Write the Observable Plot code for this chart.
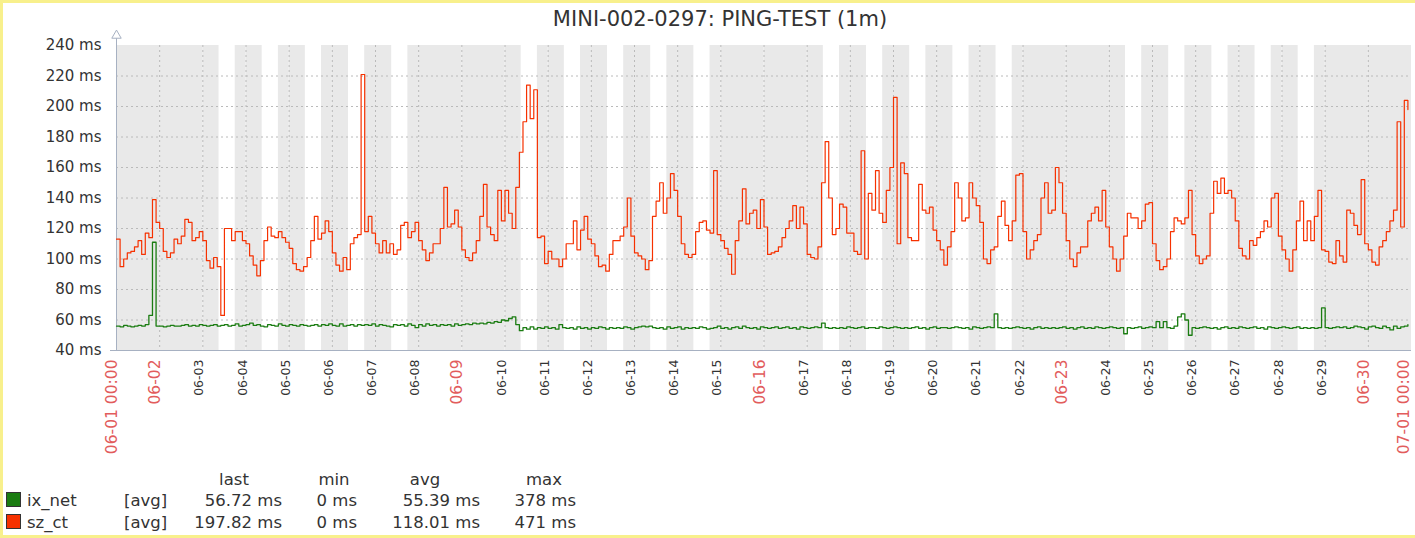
<!DOCTYPE html>
<html><head><meta charset="utf-8">
<script src="https://cdn.jsdelivr.net/npm/d3@7"></script>
<script src="https://cdn.jsdelivr.net/npm/@observablehq/plot@0.6"></script>
<style>
html,body{margin:0;padding:0;background:#fff;}
#wrap{position:relative;width:1415px;height:538px;overflow:hidden;font-family:"DejaVu Sans",sans-serif;color:#333;}
#title{height:30px;line-height:38px;font-size:21px;text-align:center;padding-left:25px;box-sizing:border-box;width:1415px;white-space:nowrap;color:#333;}
#wrap svg{display:block;}
#frame{position:absolute;left:0;top:0;width:1415px;height:538px;box-sizing:border-box;border-top:3px solid #f8f08c;border-left:3px solid #f8f08c;border-bottom:3px solid #f8f08c;pointer-events:none;}
</style></head><body>
<div id="wrap"><div id="title"></div><div id="chart"></div><div id="legend"></div><div id="frame"></div></div>
<script>
const chartTitle = "MINI-002-0297: PING-TEST (1m)";

// series: 2-hour averages from 2019-06-01 00:00, values in ms
const ixNet = [
56,55.5,56.5,56,55.5,56,56.5,56,57,63,
111,56,56,55.5,56,56.5,56,56,56.5,57,
56,56.5,56,57,56.5,56,56.5,57,56,56.5,
57,56,56.5,57.5,56,56.5,57,58,56.5,57,
56,55.5,57,56.5,56,57.5,56.5,56,57,56.5,
56,57,56.5,56,56.5,57,56,57,56.5,57.5,
56.5,56,57.5,56,56.5,57,56,57,56.5,57,
56.5,57.5,56,57,56.5,56,55.5,57,56.5,57,
56,57.5,56.5,55,57,56,57.5,56.5,57,56,
57,56.5,57,56,57.5,56.5,57,57.5,57,58,
57.5,58,57.5,58.5,58,59,58.5,60,59.5,61,
62,57,53,55,54,55.5,54,55,54.5,55.5,
54.5,55,54,57,55,54.5,55,54,55.5,54.5,
55,54,55,54.5,55.5,55,54,55,54.5,55,
54.5,55.5,55,54,55,55.5,56,55.5,56,55,
54.5,55,54,55.5,54.5,55,55.5,54,55,54.5,
55,54.5,55.5,55,54,54.5,55,56,54.5,55,
54,55,55.5,54.5,56,55,54.5,55,54,55.5,
55,54.5,55,55.5,54.5,55,55.5,54.5,55,54,
55.5,55,54.5,55,55.5,55,58,55,54.5,55,
54.5,55,54.5,55.5,55,54.5,55,55.5,54.5,55,
55,54.5,55.5,55,54.5,55,55.5,55,54.5,55,
54.5,55,55.5,54.5,55,54,55,55.5,54.5,55,
55,54.5,55,55.5,55,54.5,55,54,55.5,55,
54.5,55,55.5,55,64,55,54.5,55,54.5,55,
55.5,55,54.5,55,54,55,55.5,54.5,55,54.5,
55,54.5,55,55.5,54.5,55,54,55,55.5,54.5,
55,54.5,55.5,55,54.5,55,55.5,55,54.5,55,
51,55,54.5,55,55.5,54.5,55,55.5,55,59,
55,59,55,54.5,56,62,64,60,50,55,
54.5,55,55.5,55,54.5,55,54,55,55.5,54.5,
55,54.5,55.5,55,54.5,55,55.5,54.5,55,54,
55.5,55,54.5,55,55.5,55,54.5,55,55.5,54.5,
55,54.5,55,54.5,55,68,55,54.5,55,55.5,
55,55.5,54.5,55,56,55.5,55,54,55.5,56,
55,54.5,56,55,53.5,56,54.5,55.5,56,57
];
const szCt = [
113,95,100,104,105,108,112,103,117,114,
139,124,120,105,101,104,113,110,115,126,
124,112,114,118,112,99,94,101,95,63,
120,120,112,118,118,112,110,102,96,89,
99,112,121,115,114,118,114,111,107,97,
93,92,95,101,112,128,113,117,125,118,
104,96,92,101,93,110,114,116,221,118,
128,117,110,104,112,104,110,103,106,122,
124,114,118,124,112,106,99,104,110,110,
120,147,121,123,132,121,106,101,99,104,
112,128,149,121,116,112,145,125,145,130,
120,147,170,190,214,192,211,114,115,97,
105,100,100,95,100,110,110,125,106,119,
128,113,110,102,95,96,92,103,112,112,
115,121,140,115,104,102,100,93,99,128,
138,150,130,140,156,145,128,110,103,101,
103,118,124,125,119,117,158,116,112,107,
103,90,112,125,146,123,130,132,120,139,
121,103,104,105,108,114,120,125,135,120,
134,123,103,101,100,108,150,177,140,116,
120,136,134,117,117,105,103,171,100,143,
132,158,130,124,145,160,206,110,163,156,
114,112,112,149,132,130,134,119,112,106,
96,108,118,150,140,125,127,150,140,135,
124,100,97,106,108,128,138,122,112,125,
155,156,118,100,106,112,116,140,150,130,
132,160,150,130,112,100,95,104,108,108,
125,130,134,125,145,121,108,100,92,100,
115,130,127,127,120,125,136,137,110,99,
93,95,100,118,127,125,123,127,145,116,
102,97,100,102,130,151,143,153,143,145,
140,125,107,102,100,112,109,114,118,125,
121,140,143,115,106,100,92,106,125,138,
112,125,112,128,145,106,105,98,97,112,
102,98,132,130,122,116,152,110,106,98,
96,108,112,118,125,132,190,121,204,198
];

const yTicks = [40,60,80,100,120,140,160,180,200,220,240];
const xTickLabels = ["06-01 00:00","06-02","06-03","06-04","06-05","06-06","06-07","06-08","06-09","06-10",
  "06-11","06-12","06-13","06-14","06-15","06-16","06-17","06-18","06-19","06-20",
  "06-21","06-22","06-23","06-24","06-25","06-26","06-27","06-28","06-29","06-30","07-01 00:00"];
const redTickLabels = ["06-01 00:00","06-02","06-09","06-16","06-23","06-30","07-01 00:00"];
const workHours = [9, 18];
const weekendDays = [0, 6];

const seriesNames = ["ix_net", "sz_ct"];
const seriesColors = ["#1A7C11", "#F63100"];
const seriesFn = ["[avg]", "[avg]"];
const statHeaders = ["last", "min", "avg", "max"];
const statLast = ["56.72 ms", "197.82 ms"];
const statMin = ["0 ms", "0 ms"];
const statAvg = ["55.39 ms", "118.01 ms"];
const statMax = ["378 ms", "471 ms"];

const HOUR = 3600e3, DAY = 24*HOUR;
const t0 = Date.UTC(2019, 5, 1);
const tEnd = Date.UTC(2019, 6, 1);
const toRows = arr => arr.map((v, i) => ({t: new Date(t0 + i*2*HOUR), v}));
const ixRows = toRows(ixNet), szRows = toRows(szCt);

const bands = [];
for (let i = 0; i < 30; i++) {
  const dow = new Date(t0 + i*DAY).getUTCDay();
  const base = t0 + i*DAY;
  if (weekendDays.includes(dow)) bands.push({a: base, b: base + DAY});
  else { bands.push({a: base, b: base + workHours[0]*HOUR}); bands.push({a: base + workHours[1]*HOUR, b: base + DAY}); }
}
const ticks = xTickLabels.map((label, i) => ({t: new Date(t0 + i*DAY), label, red: redTickLabels.includes(label)}));
const lastTick = ticks[ticks.length - 1];
const dayLines = ticks.slice(1, -1).map(d => d.t);
const axisColor = "#a7b1c2";

document.getElementById("title").textContent = chartTitle;

const plot = Plot.plot({
  width: 1415, height: 430,
  marginLeft: 116, marginRight: 4, marginTop: 15, marginBottom: 110,
  x: {type: "utc", domain: [new Date(t0), new Date(tEnd)], axis: null},
  y: {domain: [40, 240], ticks: yTicks, tickFormat: d => `${d} ms`, tickSize: 0, tickPadding: 15, label: null},
  style: {fontFamily: "DejaVu Sans", fontSize: "15px", color: "#333", background: "transparent", overflow: "visible"},
  marks: [
    Plot.rect(bands, {x1: d => new Date(d.a), x2: d => new Date(d.b), y1: 40, y2: 240, fill: "#e9e9e9"}),
    Plot.ruleY(yTicks.slice(1, -1), {stroke: "#bababa", strokeDasharray: "2,3"}),
    Plot.ruleX(dayLines, {stroke: "#bababa", strokeDasharray: "2,3"}),
    Plot.ruleX([new Date(t0)], {stroke: axisColor, insetTop: -7}),
    Plot.ruleY([40], {stroke: axisColor, insetLeft: -6}),
    Plot.dot([{t: new Date(t0), v: 240}], {x: "t", y: "v", dy: -10, symbol: "triangle", r: 3.5, stroke: axisColor, fill: "white", strokeWidth: 1}),
    Plot.line(ixRows, {x: "t", y: "v", stroke: seriesColors[0], strokeWidth: 1.3, curve: "step-after"}),
    Plot.line(szRows, {x: "t", y: "v", stroke: seriesColors[1], strokeWidth: 1.2, curve: "step-after"}),
    Plot.text(ticks.filter(d => !d.red), {x: "t", text: "label", frameAnchor: "bottom", rotate: -90, textAnchor: "end", dy: 9, dx: 0.5, fontSize: 12.5, fill: "#333"}),
    Plot.text(ticks.filter(d => d.red && d !== lastTick), {x: "t", text: "label", frameAnchor: "bottom", rotate: -90, textAnchor: "end", dy: 9, dx: 0.5, fontSize: 15.5, fill: "#e25c5c"}),
    Plot.text([lastTick], {x: "t", text: "label", frameAnchor: "bottom", rotate: -90, textAnchor: "end", dy: 9, dx: -3, fontSize: 15.5, fill: "#e25c5c"})
  ]
});
document.getElementById("chart").appendChild(plot);

// legend
const lg = d3.create("svg").attr("width", 1415).attr("height", 78)
  .style("font-family", "DejaVu Sans").style("font-size", "16.5px").attr("fill", "#333");
const headerX = [234, 334, 425, 544];
const colRight = [282, 357, 480, 576];
statHeaders.forEach((h, j) => lg.append("text").attr("x", headerX[j]).attr("y", 25).attr("text-anchor", "middle").text(h));
const stats = [statLast, statMin, statAvg, statMax];
seriesNames.forEach((name, i) => {
  const yb = 46 + 22*i;
  lg.append("rect").attr("x", 6.5).attr("y", yb - 13.5).attr("width", 14).attr("height", 14)
    .attr("fill", seriesColors[i]).attr("stroke", "#333").attr("stroke-width", 1);
  lg.append("text").attr("x", 27).attr("y", yb).text(name);
  lg.append("text").attr("x", 124).attr("y", yb).text(seriesFn[i]);
  stats.forEach((col, j) => lg.append("text").attr("x", colRight[j]).attr("y", yb).attr("text-anchor", "end").text(col[i]));
});
document.getElementById("legend").appendChild(lg.node());
</script>
</body></html>
